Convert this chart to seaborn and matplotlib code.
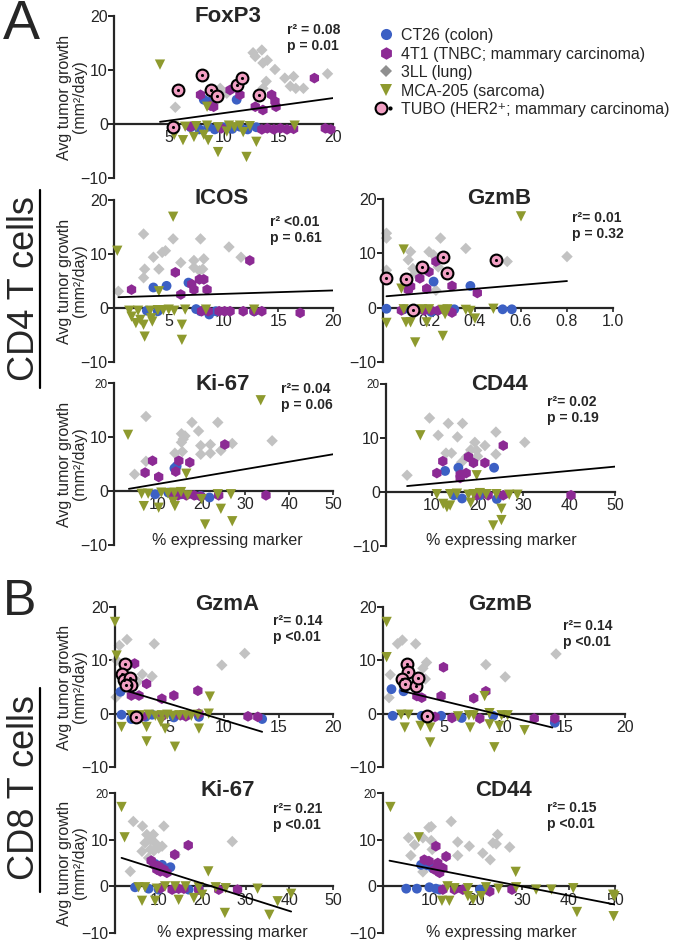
import numpy as np
import pandas as pd
import seaborn as sns
import matplotlib.pyplot as plt
from matplotlib.lines import Line2D
from matplotlib.legend_handler import HandlerTuple

W, H = 685, 944

# ---------------- data: (% expressing marker, avg tumor growth mm2/day) ----------------
# CD4 FoxP3
foxp3_ct26 = [(8.2, 4.5), (8.7, 4.1), (11.2, 4.5), (7.0, -0.6), (7.8, -1.0), (8.6, -0.5), (9.2, -1.0),
              (10.0, -0.6), (10.8, -0.9), (11.5, -0.5), (12.2, -1.0), (13.0, -0.6)]
foxp3_4t1 = [(7.9, 5.4), (8.8, 3.4), (9.1, 3.2), (10.6, 6.3), (11.5, 5.4), (12.9, 3.2), (13.6, 2.6),
             (14.4, 5.4), (14.7, 4.2), (14.8, 3.2), (18.3, 8.5), (7.0, -0.5), (9.8, -0.8), (13.5, -1.0),
             (14.0, -0.8), (14.6, -1.0), (15.2, -0.8), (15.8, -1.0), (16.4, -0.9), (19.3, -0.8), (19.8, -1.0)]
foxp3_3ll = [(5.6, 3.1), (9.4, 5.4), (9.7, 6.6), (10.3, 5.7), (12.7, 13.2), (13.5, 13.7), (12.9, 12.5),
             (13.6, 11.3), (14.7, 10.1), (13.9, 7.9), (13.6, 6.6), (15.6, 8.5), (16.1, 7.0), (16.6, 6.6),
             (17.3, 6.6), (16.4, 8.8), (19.5, 9.3), (14.0, 11.8)]
foxp3_mca = [(4.2, 11.0), (8.5, 3.2), (5.5, -0.5), (5.5, -2.0), (6.3, -3.0), (6.5, -0.5), (7.3, -2.4),
             (7.5, -0.4), (8.2, -2.0), (8.5, -0.3), (8.6, -3.0), (9.5, -0.6), (9.5, -5.2), (10.3, -1.4),
             (10.5, -0.3), (11.0, -0.6), (11.5, -0.3), (11.8, -1.5), (12.1, -6.1), (12.4, -0.4),
             (13.0, -3.3), (16.5, -0.3)]
foxp3_tubo = [(5.8, 6.3), (8.0, 9.1), (8.9, 6.3), (9.4, 5.1), (11.2, 7.3), (11.7, 8.5), (13.2, 5.4), (5.4, -0.6)]
foxp3_fit_x, foxp3_fit_y = [4.2, 20], [0.4, 4.8]

# CD4 ICOS
icos_ct26 = [(3.6, 3.8), (4.8, 4.1), (6.8, 4.7), (3.0, -0.5), (4.0, -0.6), (7.5, -0.2), (7.9, -0.6),
             (8.7, -1.2), (9.3, -0.6), (12.8, -0.6)]
icos_4t1 = [(1.6, 3.4), (5.6, 6.6), (6.1, 2.5), (7.1, 4.4), (7.3, 3.4), (7.8, 5.3), (8.2, 5.3), (8.5, 3.4),
            (12.4, 8.8), (8.0, -0.6), (8.6, -0.6), (9.6, -0.6), (10.1, -0.6), (10.6, -0.6), (11.8, -0.6),
            (12.8, -0.6), (13.5, -0.6), (17.0, -0.9)]
icos_3ll = [(0.4, 3.1), (2.7, 13.7), (2.8, 7.2), (2.7, 5.6), (4.1, 7.2), (3.6, 9.4), (4.4, 10.3), (4.7, 10.6),
            (5.4, 12.8), (6.1, 8.4), (7.3, 8.8), (7.9, 12.8), (8.2, 9.1), (7.3, 7.5), (7.8, 6.9), (8.1, 7.2),
            (10.5, 11.3), (11.6, 9.4)]
icos_mca = [(0.3, 10.6), (5.4, 16.9), (4.1, 3.1), (1.4, -0.5), (1.6, -1.6), (2.2, -0.5), (2.4, -2.2),
            (2.7, -3.1), (2.8, -5.3), (3.4, -1.9), (3.3, -0.5), (3.5, -2.5), (4.0, -0.4), (4.5, -0.4),
            (5.0, -0.3), (5.5, -0.5), (6.2, -3.1), (6.2, -5.9), (6.5, -0.3), (8.4, -0.3), (12.8, -0.3), (2.0, -2.8)]
icos_fit_x, icos_fit_y = [0.4, 20], [2.0, 3.25]

# CD4 GzmB
gzmb4_ct26 = [(0.015, -0.2), (0.09, -0.3), (0.22, 4.8), (0.38, 4.0), (0.21, -0.8), (0.31, -0.3),
              (0.52, -0.3), (0.56, -0.3)]
gzmb4_4t1 = [(0.11, 3.3), (0.12, 3.9), (0.16, 5.4), (0.2, 6.6), (0.19, 3.5), (0.23, 8.5), (0.3, 4.0),
             (0.41, 2.7), (0.08, -0.5), (0.15, -0.5), (0.18, -0.5), (0.21, -0.5), (0.24, -0.5), (0.3, -0.9)]
gzmb4_3ll = [(0.015, 13.7), (0.015, 12.8), (0.015, 6.9), (0.12, 10.3), (0.11, 8.8), (0.13, 7.2), (0.14, 6.3),
             (0.2, 10.3), (0.22, 9.7), (0.25, 12.8), (0.24, 7.5), (0.23, 3.2), (0.36, 10.9), (0.54, 8.5), (0.8, 9.4)]
gzmb4_mca = [(0.09, 10.7), (0.08, 3.5), (0.015, -2.8), (0.1, -2.7), (0.12, -2.7), (0.14, -6.4), (0.19, -2.7),
             (0.26, -5.2), (0.4, -2.0), (0.6, 16.8), (0.09, -0.3), (0.17, -0.3), (0.2, -0.3), (0.26, -0.4),
             (0.28, -0.3), (0.36, -0.4), (0.38, -0.6), (0.48, -0.2), (0.27, -1.2)]
gzmb4_tubo = [(0.015, 5.4), (0.1, 5.2), (0.17, 7.5), (0.26, 9.3), (0.28, 6.4), (0.49, 8.8), (0.13, -0.5)]
gzmb4_fit_x, gzmb4_fit_y = [0.015, 0.8], [2.1, 4.9]

# CD4 Ki-67
ki4_ct26 = [(13.8, 4.2), (14.3, 4.6), (9.4, -0.6), (12.4, -0.3), (15.4, -0.6), (19.8, -0.9), (21.8, -1.2)]
ki4_4t1 = [(7.1, 3.4), (8.8, 5.6), (10.2, 2.6), (14.1, 3.6), (14.8, 5.6), (17.3, 5.3), (25.3, 8.6),
           (34.7, -0.8), (14.6, -0.8), (16.5, -0.8), (18.3, -0.8), (19.8, -1.0), (23.9, -0.8), (13.5, -0.5)]
ki4_3ll = [(4.7, 3.1), (7.3, 13.8), (7.3, 5.5), (13.9, 7.0), (15.4, 10.6), (15.8, 9.6), (16.2, 10.2),
           (15.4, 9.0), (15.6, 7.3), (17.8, 12.7), (19.3, 11.1), (19.8, 8.4), (19.8, 6.8), (22.0, 8.6),
           (22.0, 7.0), (23.7, 12.7), (24.4, 7.5), (27.0, 8.8), (36.1, 9.3)]
ki4_mca = [(3.2, 10.4), (16.5, 3.2), (33.5, 16.8), (6.3, -0.5), (7.8, -0.5), (10.8, -0.3), (12.3, -0.4),
           (13.8, -0.3), (15.3, -0.2), (16.8, -0.8), (6.8, -2.8), (10.2, -3.1), (13.9, -2.8), (13.5, -2.0),
           (20.8, -6.2), (24.4, -3.3), (27.0, -5.6), (26.7, -0.6), (20.0, -1.5), (23.7, -0.6)]
ki4_fit_x, ki4_fit_y = [3.4, 50], [0.4, 6.8]

# CD4 CD44
cd44_4_ct26 = [(12.9, 3.9), (15.8, 4.5), (23.6, 4.5), (14.8, -0.6), (16.6, -1.2), (20.5, -0.6), (24.2, -1.3)]
cd44_4_4t1 = [(11.1, 3.5), (12.4, 5.7), (16.2, 2.6), (17.5, 3.5), (18.0, 6.5), (19.1, 5.4), (21.6, 5.4),
              (25.6, 8.6), (40.4, -0.6), (19.8, -0.6), (22.3, -0.6), (25.6, -0.6), (16.2, 3.2)]
cd44_4_3ll = [(4.6, 3.1), (9.5, 13.7), (11.4, 10.5), (13.1, 7.2), (14.3, 7.2), (13.6, 12.7), (15.6, 10.2),
              (16.7, 12.7), (16.5, 5.5), (17.6, 6.5), (18.5, 7.8), (19.4, 9.2), (19.8, 7.7), (20.0, 6.6),
              (21.6, 8.6), (24.0, 7.0), (24.0, 11.1), (30.3, 9.2)]
cd44_4_mca = [(7.5, 10.5), (19.8, 3.1), (11.1, -0.4), (14.0, -0.4), (15.5, -0.3), (18.0, -0.5), (19.1, -0.4),
              (20.5, -0.2), (21.9, -0.4), (24.1, -0.4), (26.9, -0.5), (28.7, -0.5), (13.3, -2.8), (12.5, -2.2),
              (14.0, -2.5), (18.5, -2.0), (23.4, -6.2), (25.2, -5.2), (25.2, -3.1)]
cd44_4_fit_x, cd44_4_fit_y = [4.6, 50], [1.1, 4.7]

# CD8 GzmA
gzma8_ct26 = [(0.5, 4.1), (0.6, -0.2), (2.8, -0.6), (3.4, -0.2), (5.4, -0.7), (7.7, -0.6), (13.5, -1.0), (1.5, -1.0)]
gzma8_4t1 = [(1.8, 9.4), (2.9, 5.6), (1.5, 3.4), (2.2, 3.4), (4.3, 2.8), (5.4, 3.4), (7.6, 4.3), (13.1, -0.6),
             (12.2, -0.5), (2.5, -0.5), (4.3, -0.5), (6.0, -0.3), (6.5, -0.5), (7.7, 0.0)]
gzma8_3ll = [(0.1, 3.1), (0.15, 10.0), (0.4, 12.8), (1.1, 13.9), (3.6, 13.1), (2.5, 7.4), (3.4, 7.0),
             (9.8, 9.1), (11.9, 11.3), (2.1, 6.0)]
gzma8_mca = [(0.0, 17.2), (0.15, 10.9), (8.7, 3.2), (0.6, -2.5), (2.9, -2.5), (2.9, -5.2), (4.6, -2.8),
             (5.5, -6.2), (7.7, -2.8), (8.6, 0.0), (1.5, -0.3), (2.3, -0.3), (3.1, -0.2), (3.7, -0.4),
             (4.3, -0.3), (4.8, -0.2), (5.3, -0.4), (5.9, -0.3), (6.5, -0.3), (7.0, -0.4), (7.6, -0.2), (4.2, -1.5)]
gzma8_tubo = [(0.9, 9.4), (0.6, 7.5), (0.8, 6.3), (1.4, 6.6), (1.5, 5.3), (1.0, 5.3), (1.9, -0.6)]
gzma8_fit_x, gzma8_fit_y = [1.2, 13.5], [4.2, -3.4]

# CD8 GzmB
gzmb8_ct26 = [(0.7, 4.6), (1.7, 4.2), (14.2, -1.7), (0.8, -0.4), (3.2, -0.4), (4.8, -0.4), (9.1, -0.4), (6.5, -0.8)]
gzmb8_4t1 = [(3.1, 6.7), (2.8, 3.3), (3.2, 3.0), (5.0, 8.7), (4.8, 3.3), (7.5, 2.9), (8.5, 4.2), (12.5, -0.9),
             (14.2, -0.9), (3.9, -0.4), (5.7, -0.8), (8.0, -0.9), (4.3, -0.6)]
gzmb8_3ll = [(0.5, 3.0), (0.6, 7.3), (1.2, 13.1), (1.6, 13.8), (2.7, 13.1), (3.6, 9.6), (3.5, 6.5), (8.5, 9.2),
             (10.1, 6.9), (14.3, 11.2), (3.3, 8.5)]
gzmb8_mca = [(0.3, 17.2), (0.3, 10.6), (8.4, 3.3), (1.8, -2.6), (3.1, -2.3), (3.9, -2.6), (3.9, -5.4),
             (7.2, -2.6), (8.8, -2.0), (9.2, -6.3), (9.6, -2.3), (11.7, -3.1), (1.5, -0.2), (2.1, -0.2),
             (6.2, -0.5), (7.1, -0.3), (7.5, -0.3), (8.8, 0.1), (9.8, -0.3), (10.3, -0.3)]
gzmb8_tubo = [(2.0, 9.4), (2.1, 7.9), (1.6, 6.5), (1.8, 5.5), (2.7, 5.2), (2.9, 6.7), (3.6, -0.4)]
gzmb8_fit_x, gzmb8_fit_y = [1.5, 14.0], [4.3, -2.6]

# CD8 Ki-67
ki8_ct26 = [(9.2, 4.8), (10.8, 4.6), (12.7, 4.1), (4.6, -0.2), (7.7, -0.5), (10.0, -0.7), (13.8, -0.4),
            (16.9, -0.7), (19.2, -0.5)]
ki8_4t1 = [(8.3, 5.5), (9.0, 4.6), (9.6, 3.6), (10.0, 4.3), (10.4, 3.2), (11.2, 3.6), (11.9, 2.9), (16.8, 8.8),
           (13.7, 6.8), (10.4, -0.4), (13.1, -0.7), (14.6, -0.5), (15.8, -0.5), (19.2, -0.7), (23.8, -0.7), (28.1, -0.7)]
ki8_3ll = [(3.5, 3.2), (4.2, 13.9), (6.3, 12.9), (7.3, 11.1), (8.1, 10.0), (8.8, 11.1), (9.2, 9.3), (6.9, 9.3),
           (6.2, 7.5), (8.1, 7.9), (8.9, 7.6), (10.0, 8.2), (11.2, 12.9), (10.8, 8.6), (13.8, 6.8), (26.9, 9.6), (7.7, 6.1)]
ki8_mca = [(1.5, 17.0), (2.2, 10.5), (21.4, 3.2), (5.4, -0.2), (6.9, -0.2), (9.6, -0.5), (11.5, 0.0),
           (13.8, 0.0), (16.2, 0.0), (19.2, -0.2), (23.1, -0.2), (25.4, -0.4), (32.7, -0.5), (40.4, -1.6),
           (6.2, -3.1), (9.2, -3.1), (14.6, -2.9), (18.1, -2.5), (20.0, -1.8), (25.2, -5.7), (35.4, -6.1), (37.3, -3.2)]
ki8_fit_x, ki8_fit_y = [1.5, 40.4], [6.1, -5.4]

# CD8 CD44
cd44_8_ct26 = [(8.2, 4.6), (9.6, 4.5), (10.7, 3.9), (12.2, 3.8), (5.0, -0.5), (7.3, -0.5), (10.0, -0.2),
               (11.4, -0.5), (12.2, -0.7), (20.9, -0.7), (22.6, -0.7)]
cd44_8_4t1 = [(8.9, 5.7), (9.9, 5.4), (11.4, 8.6), (11.8, 5.0), (11.1, 3.6), (12.2, 2.9), (13.6, 6.4),
              (12.9, 3.9), (12.9, -0.7), (15.4, -0.7), (17.2, -0.7), (23.0, -1.1), (27.8, -0.7)]
cd44_8_3ll = [(5.5, 10.4), (6.0, 6.6), (6.8, 8.9), (9.9, 12.6), (10.4, 12.8), (8.6, 10.4), (10.6, 7.9),
              (10.4, 9.8), (14.7, 13.9), (13.6, 6.4), (16.1, 9.5), (16.1, 6.6), (18.6, 8.6), (21.5, 7.1),
              (23.1, 5.7), (23.7, 9.3), (24.4, 9.1), (24.7, 11.1), (27.3, 8.4), (8.6, 3.1)]
cd44_8_mca = [(1.6, 17.0), (7.7, 10.5), (28.6, 3.1), (12.7, -3.1), (14.3, -3.1), (18.3, -2.1), (19.4, -2.9),
              (21.2, -2.1), (13.9, 0.0), (15.4, -0.4), (18.3, -0.4), (22.2, -0.2), (24.9, -0.5), (28.7, -0.2),
              (33.0, -0.7), (36.3, -0.7), (41.0, -0.4), (49.6, -1.8), (41.8, -5.5), (49.7, -6.4), (49.9, -2.1)]
cd44_8_fit_x, cd44_8_fit_y = [1.4, 50], [5.5, -3.9]

MODEL_LABELS = ["CT26 (colon)", "4T1 (TNBC; mammary carcinoma)", "3LL (lung)",
                "MCA-205 (sarcoma)", "TUBO (HER2\u207a; mammary carcinoma)"]

# ---------------- styling ----------------
sns.set_style("ticks")
plt.rcParams["font.family"] = ["Liberation Sans", "DejaVu Sans"]

STYLE = {
    "3LL": dict(marker="D", color="#c2c2c2", s=34, edge="none", lw=0, z=2),
    "CT26": dict(marker="o", color="#3c60c4", s=50, edge="none", lw=0, z=3),
    "4T1": dict(marker="h", color="#8c2a94", s=60, edge="none", lw=0, z=3.5),
    "MCA-205": dict(marker="v", color="#8e9a2e", s=55, edge="none", lw=0, z=4),
    "TUBO": dict(marker="o", color="#f2a0c4", s=72, edge="black", lw=1.5, z=5),
}


def frame(groups):
    rows = [(m, x, y) for m, pts in groups.items() for x, y in pts]
    return pd.DataFrame(rows, columns=["model", "x", "y"])


def fx(px):
    return px / W


def fy(py):
    return 1 - py / H


fig = plt.figure(figsize=(W / 100, H / 100), dpi=100)


def draw_panel(box, df, fit_x, fit_y, xmax, xticks, xlabels, title, title_xy,
               stats, stats_xy, small_top=False):
    l, t, r, b = box
    ax = fig.add_axes([fx(l), fy(b), (r - l) / W, (b - t) / H])
    ax.patch.set_alpha(0)
    for model in ["3LL", "CT26", "4T1", "MCA-205", "TUBO"]:
        sub = df[df.model == model]
        if sub.empty:
            continue
        st = STYLE[model]
        sns.scatterplot(data=sub, x="x", y="y", marker=st["marker"], color=st["color"], s=st["s"],
                        edgecolor=st["edge"], linewidth=st["lw"], ax=ax, clip_on=False, zorder=st["z"])
        if model == "TUBO":
            sns.scatterplot(data=sub, x="x", y="y", marker="o", color="black", s=5, linewidth=0,
                            ax=ax, clip_on=False, zorder=6)
    sns.lineplot(x=fit_x, y=fit_y, color="black", linewidth=1.3, sort=False, errorbar=None,
                 ax=ax, zorder=4.5)
    ax.set_xlim(0, xmax)
    ax.set_ylim(-10, 20)
    ax.set_xticks(xticks)
    ax.set_xticklabels(xlabels)
    ax.set_yticks([-10, 0, 10, 20])
    ax.spines["bottom"].set_position(("data", 0))
    for s in ("top", "right"):
        ax.spines[s].set_visible(False)
    for s in ("left", "bottom"):
        ax.spines[s].set_linewidth(1.6)
    ax.tick_params(axis="y", labelsize=11.5, width=1.4, length=4, pad=0.5)
    ax.tick_params(axis="x", labelsize=11.5, width=1.2, length=3, pad=1.5)
    if small_top:
        ax.get_yticklabels()[-1].set_fontsize(8.5)
    ax.set_xlabel("")
    ax.set_ylabel("")
    fig.text(fx(title_xy[0]), fy(title_xy[1]), title, ha="center", va="center",
             fontsize=16, fontweight="bold")
    fig.text(fx(stats_xy[0]), fy(stats_xy[1]), stats[0], ha="left", va="center",
             fontsize=10, fontweight="bold")
    fig.text(fx(stats_xy[0]), fy(stats_xy[1] + 16), stats[1], ha="left", va="center",
             fontsize=10, fontweight="bold")
    return ax


t20 = [5, 10, 15, 20]
t20l = ["5", "10", "15", "20"]
t50 = [10, 20, 30, 40, 50]
t50l = ["10", "20", "30", "40", "50"]

draw_panel((114, 16, 333, 178),
           frame({"CT26": foxp3_ct26, "4T1": foxp3_4t1, "3LL": foxp3_3ll, "MCA-205": foxp3_mca, "TUBO": foxp3_tubo}),
           foxp3_fit_x, foxp3_fit_y, 20, t20, t20l, "FoxP3", (228, 16),
           ("r\u00b2 = 0.08", "p = 0.01"), (287, 30))
draw_panel((114, 200, 333, 362),
           frame({"CT26": icos_ct26, "4T1": icos_4t1, "3LL": icos_3ll, "MCA-205": icos_mca}),
           icos_fit_x, icos_fit_y, 20, t20, t20l, "ICOS", (222, 198),
           ("r\u00b2 <0.01", "p = 0.61"), (270, 222))
draw_panel((383, 199, 613, 362),
           frame({"CT26": gzmb4_ct26, "4T1": gzmb4_4t1, "3LL": gzmb4_3ll, "MCA-205": gzmb4_mca, "TUBO": gzmb4_tubo}),
           gzmb4_fit_x, gzmb4_fit_y, 1.0, [0.2, 0.4, 0.6, 0.8, 1.0], ["0.2", "0.4", "0.6", "0.8", "1.0"],
           "GzmB", (499, 198), ("r\u00b2= 0.01", "p = 0.32"), (572, 218))
draw_panel((114, 383, 333, 545),
           frame({"CT26": ki4_ct26, "4T1": ki4_4t1, "3LL": ki4_3ll, "MCA-205": ki4_mca}),
           ki4_fit_x, ki4_fit_y, 50, t50, t50l, "Ki-67", (223, 384),
           ("r\u00b2= 0.04", "p = 0.06"), (281, 389), small_top=True)
draw_panel((386, 384, 615, 546),
           frame({"CT26": cd44_4_ct26, "4T1": cd44_4_4t1, "3LL": cd44_4_3ll, "MCA-205": cd44_4_mca}),
           cd44_4_fit_x, cd44_4_fit_y, 50, t50, t50l, "CD44", (500, 384),
           ("r\u00b2= 0.02", "p = 0.19"), (547, 402), small_top=True)
draw_panel((115, 607, 333, 767),
           frame({"CT26": gzma8_ct26, "4T1": gzma8_4t1, "3LL": gzma8_3ll, "MCA-205": gzma8_mca, "TUBO": gzma8_tubo}),
           gzma8_fit_x, gzma8_fit_y, 20, t20, t20l, "GzmA", (227, 604),
           ("r\u00b2= 0.14", "p <0.01"), (273, 621))
draw_panel((383, 607, 625, 767),
           frame({"CT26": gzmb8_ct26, "4T1": gzmb8_4t1, "3LL": gzmb8_3ll, "MCA-205": gzmb8_mca, "TUBO": gzmb8_tubo}),
           gzmb8_fit_x, gzmb8_fit_y, 20, t20, t20l, "GzmB", (500, 604),
           ("r\u00b2= 0.14", "p <0.01"), (563, 626))
draw_panel((115, 793, 333, 933),
           frame({"CT26": ki8_ct26, "4T1": ki8_4t1, "3LL": ki8_3ll, "MCA-205": ki8_mca}),
           ki8_fit_x, ki8_fit_y, 50, t50, t50l, "Ki-67", (228, 791),
           ("r\u00b2= 0.21", "p <0.01"), (273, 809), small_top=True)
draw_panel((383, 793, 615, 933),
           frame({"CT26": cd44_8_ct26, "4T1": cd44_8_4t1, "3LL": cd44_8_3ll, "MCA-205": cd44_8_mca}),
           cd44_8_fit_x, cd44_8_fit_y, 50, t50, t50l, "CD44", (503, 790),
           ("r\u00b2= 0.15", "p <0.01"), (547, 808), small_top=True)

# y labels on the left column
for cy in [97, 281, 464, 687, 863]:
    fig.text(fx(72), fy(cy), "Avg tumor growth\n(mm\u00b2/day)", rotation=90, ha="center", va="center",
             fontsize=11.5, linespacing=1.05, multialignment="center")

# x labels on the bottom of each block
for cx, cy in [(227, 540), (501, 540), (232, 933), (501, 933)]:
    fig.text(fx(cx), fy(cy), "% expressing marker", ha="center", va="center", fontsize=11.5)

# panel letters and cell type headings
fig.text(fx(21), fy(25), "A", ha="center", va="center", fontsize=40)
fig.text(fx(20), fy(602), "B", ha="center", va="center", fontsize=36)
fig.text(fx(25), fy(289), "CD4 T cells", rotation=90, ha="center", va="center", fontsize=26)
fig.text(fx(25), fy(788), "CD8 T cells", rotation=90, ha="center", va="center", fontsize=26)
fig.add_artist(Line2D([fx(40), fx(40)], [fy(190), fy(388)], color="black", linewidth=1.6,
                      transform=fig.transFigure))
fig.add_artist(Line2D([fx(40), fx(40)], [fy(688), fy(892)], color="black", linewidth=1.6,
                      transform=fig.transFigure))

# legend
handles = [
    Line2D([], [], linestyle="none", marker="o", markersize=8, color="#3c60c4", markeredgewidth=0),
    Line2D([], [], linestyle="none", marker="h", markersize=9, color="#8c2a94", markeredgewidth=0),
    Line2D([], [], linestyle="none", marker="D", markersize=6, color="#8f8f8f", markeredgewidth=0),
    Line2D([], [], linestyle="none", marker="v", markersize=8.5, color="#8e9a2e", markeredgewidth=0),
    (Line2D([], [], linestyle="none", marker="o", markersize=8.5, markerfacecolor="#f2a0c4",
            markeredgecolor="black", markeredgewidth=1.5),
     Line2D([], [], linestyle="none", marker="o", markersize=2, color="black")),
]
fig.legend(handles, MODEL_LABELS, loc="upper left", bbox_to_anchor=(fx(376), fy(28)), frameon=False,
           fontsize=11.5, handletextpad=0.35, labelspacing=0.22, handlelength=1.2, borderaxespad=0,
           borderpad=0, handler_map={tuple: HandlerTuple(ndivide=None)})

fig.savefig("out.png", dpi=100)
